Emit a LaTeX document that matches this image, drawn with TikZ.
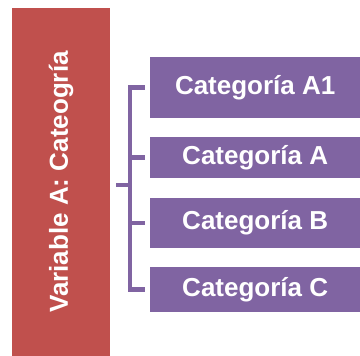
\documentclass[tikz,border=0pt]{standalone}
\usepackage{fontspec}
\setmainfont{Liberation Sans}
\usepackage{tikz}
\definecolor{varred}{HTML}{C0504D}
\definecolor{catpurple}{HTML}{8064A2}
\tikzset{
  BaseNode/.style = {align=center, inner sep=0pt, text centered, text=white,
                     font=\fontsize{26}{30}\selectfont\bfseries},
  VarNode/.style = {BaseNode, rectangle, fill=varred, minimum width=348pt, minimum height=98pt},
  CatNode/.style = {BaseNode, rectangle, fill=catpurple, minimum width=210pt, anchor=north west},
  Bracket/.style = {draw=catpurple, line width=4.5pt, line join=miter},
}

\begin{document}
\begin{tikzpicture}[x=1pt,y=-1pt]
    \useasboundingbox (0,0) rectangle (360,356);
    \node [VarNode, rotate=90] (Var) at (61,182) {Variable A: Cateogría};
    \node [CatNode, minimum height=61pt] (CatA1) at (150,57) {Categoría A1};
    \node [CatNode, minimum height=41pt] (CatA) at (150,137) {Categoría A};
    \node [CatNode, minimum height=50pt] (CatB) at (150,198) {Categoría B};
    \node [CatNode, minimum height=45pt] (CatC) at (150,267) {Categoría C};
    % bracket joining the categories
    \draw [Bracket] ([xshift=-5pt]CatA1.west) -- ++(-15,0) |- ([xshift=-5pt]CatC.west);
    \draw [Bracket] ([xshift=-5pt]CatA.west) -- ++(-15,0);
    \draw [Bracket] ([xshift=-5pt]CatB.west) -- ++(-15,0);
    \draw [Bracket] ([shift={(6pt,-3pt)}]Var.south) -- ++(16,0);
\end{tikzpicture}
\end{document}
